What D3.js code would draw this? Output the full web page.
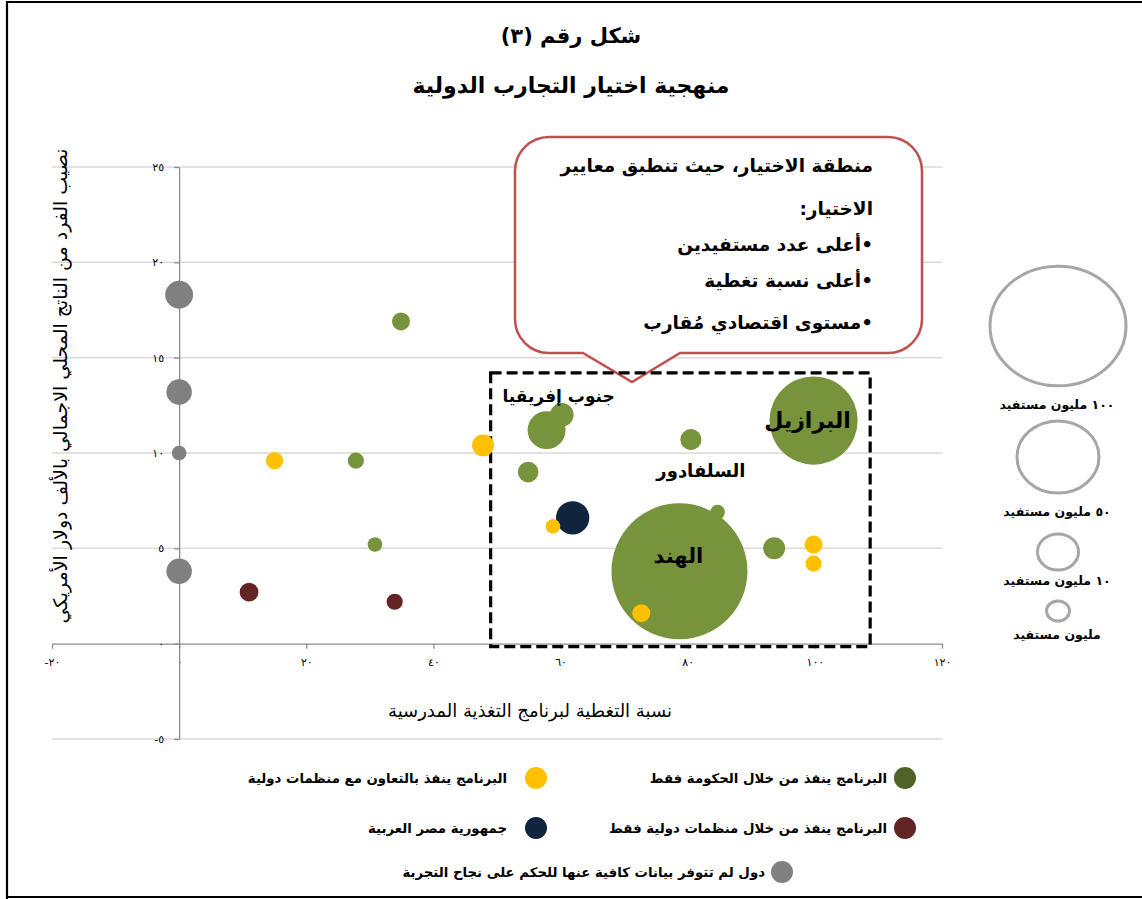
<!DOCTYPE html>
<html><head><meta charset="utf-8">
<script src="https://cdn.jsdelivr.net/npm/d3@7"></script>
<style>
body{margin:0;background:#fff}
svg{display:block}
text{font-family:"DejaVu Sans",sans-serif;fill:#000}
</style>
</head><body>
<svg id="c" width="1142" height="899"></svg>
<script>
// ---------- DATA ----------
const titleLine1 = "شكل رقم (٣)";
const titleLine2 = "منهجية اختيار التجارب الدولية";
const xAxisTitle = "نسبة التغطية لبرنامج التغذية المدرسية";
const yAxisTitle = "نصيب الفرد من الناتج المحلي الاجمالي بالألف دولار الأمريكي";

const xTicks = [-20, 0, 20, 40, 60, 80, 100, 120];
const yTicks = [-5, 0, 5, 10, 15, 20, 25];

// series: government only (green)
const govX    = [34.9, 27.8, 30.8, 57.8, 60.2, 54.9, 80.5, 99.8, 84.7, 78.7, 93.6];
const govY    = [16.9, 9.6, 5.2, 11.2, 12.0, 9.0, 10.7, 11.7, 6.9, 3.8, 5.0];
const govSize = [1.75, 1.4, 1.15, 7.8, 3.0, 2.3, 2.4, 42, 1.15, 100, 2.6];
// international organisations only (maroon)
const intlX    = [11.0, 33.9];
const intlY    = [2.7, 2.2];
const intlSize = [1.9, 1.4];
// cooperation with international organisations (yellow)
const coopX    = [15.0, 47.8, 58.8, 72.7, 99.8, 99.8];
const coopY    = [9.6, 10.4, 6.15, 1.6, 5.2, 4.2];
const coopSize = [1.6, 2.6, 1.15, 1.75, 1.75, 1.4];
// Egypt (navy)
const egyptX    = [61.9];
const egyptY    = [6.6];
const egyptSize = [6.0];
// insufficient data (gray)
const noDataX    = [0, 0, 0, 0];
const noDataY    = [18.3, 13.2, 10.0, 3.8];
const noDataSize = [4.2, 3.5, 1.15, 3.5];

const seriesNames = [
  "البرنامج ينفذ من خلال الحكومة فقط",
  "البرنامج ينفذ بالتعاون مع منظمات دولية",
  "البرنامج ينفذ من خلال منظمات دولية فقط",
  "جمهورية مصر العربية",
  "دول لم تتوفر بيانات كافية عنها للحكم على نجاح التجربة"
];

const countryNames = ["جنوب إفريقيا", "البرازيل", "السلفادور", "الهند"];
const countryGovIndex = [3, 7, 6, 9];

const selectionX = [49, 108.7];
const selectionY = [-0.15, 14.2];

const calloutLines = [
  "منطقة الاختيار، حيث تنطبق معايير",
  "الاختيار:",
  "•أعلى عدد مستفيدين",
  "•أعلى نسبة تغطية",
  "•مستوى اقتصادي مُقارب"
];

const sizeLegendValues = [100, 50, 10, 1];
const sizeLegendLabels = ["١٠٠  مليون مستفيد", "٥٠  مليون مستفيد", "١٠ مليون مستفيد", "مليون مستفيد"];

// ---------- HELPERS ----------
const rtl = s => "\u200F" + s + "\u200F";
const arDigits = n => String(n).replace(/\d/g, d => "٠١٢٣٤٥٦٧٨٩"[+d]);

const svg = d3.select("#c");

// frame
svg.append("path").attr("d", "M7,899 V2 H1142").attr("fill", "none").attr("stroke", "#000").attr("stroke-width", 2.2);
svg.append("line").attr("x1", 7).attr("x2", 1142).attr("y1", 897).attr("y2", 897).attr("stroke", "#000").attr("stroke-width", 2);

// titles
svg.append("text").attr("x", 571).attr("y", 36).attr("text-anchor", "middle").attr("dominant-baseline", "central")
  .style("font-size", "21px").style("font-weight", "bold").text(rtl(titleLine1));
svg.append("text").attr("x", 571).attr("y", 85).attr("text-anchor", "middle").attr("dominant-baseline", "central")
  .style("font-size", "22px").style("font-weight", "bold").text(rtl(titleLine2));

// scales
const x = d3.scaleLinear().domain([-20, 120]).range([52, 942]);
const y = d3.scaleLinear().domain([-5, 25]).range([739, 167]);
const r = d3.scaleSqrt().domain([0, 100]).range([0, 68]);

// gridlines
svg.append("g").selectAll("line").data(yTicks.filter(v => v !== 0)).join("line")
  .attr("x1", x(-20)).attr("x2", x(120)).attr("y1", d => y(d)).attr("y2", d => y(d))
  .attr("stroke", "#d9d9d9").attr("stroke-width", 1.5);

// axes
const xAxis = svg.append("g").attr("transform", `translate(0,${y(0)})`)
  .call(d3.axisBottom(x).tickValues(xTicks).tickSize(5).tickSizeOuter(0).tickPadding(10));
xAxis.selectAll("text").text(d => (d < 0 ? "-" : "") + arDigits(Math.abs(d)))
  .style("font-size", "11px").attr("fill", "#000");
const yAxis = svg.append("g").attr("transform", `translate(${x(0)},0)`)
  .call(d3.axisLeft(y).tickValues(yTicks).tickSize(5).tickSizeOuter(0).tickPadding(10));
yAxis.selectAll("text").text(d => (d < 0 ? "-" : "") + arDigits(Math.abs(d)))
  .style("font-size", "11px").attr("fill", "#000");
svg.selectAll(".domain, .tick line").attr("stroke", "#8c8c8c").attr("stroke-width", 1.3);

// axis titles
svg.append("text").attr("x", 530).attr("y", 710).attr("text-anchor", "middle").attr("dominant-baseline", "central")
  .style("font-size", "18px").text(rtl(xAxisTitle));
svg.append("text").attr("transform", "translate(60,386) rotate(-90)").attr("text-anchor", "middle").attr("dominant-baseline", "central")
  .style("font-size", "19px").text(rtl(yAxisTitle));

// callout (drawn before selection box)
const cb = {l: 515, r: 922, t: 137, b: 353, rad: 34, p1: 583, p2: 680, tip: [632, 382]};
svg.append("path").attr("d",
  `M${cb.l + cb.rad},${cb.t} H${cb.r - cb.rad} A${cb.rad},${cb.rad} 0 0 1 ${cb.r},${cb.t + cb.rad}
   V${cb.b - cb.rad} A${cb.rad},${cb.rad} 0 0 1 ${cb.r - cb.rad},${cb.b} H${cb.p2} L${cb.tip[0]},${cb.tip[1]} L${cb.p1},${cb.b}
   H${cb.l + cb.rad} A${cb.rad},${cb.rad} 0 0 1 ${cb.l},${cb.b - cb.rad} V${cb.t + cb.rad} A${cb.rad},${cb.rad} 0 0 1 ${cb.l + cb.rad},${cb.t} Z`)
  .attr("fill", "#fff").attr("stroke", "#c0504d").attr("stroke-width", 2.5);
const calloutY = [165, 208, 244, 280, 322];
svg.append("g").selectAll("text").data(calloutLines).join("text")
  .attr("x", 873).attr("y", (d, i) => calloutY[i]).attr("text-anchor", "end").attr("dominant-baseline", "central")
  .style("font-size", "18.5px").style("font-weight", "bold").text(d => rtl(d));

// selection box
svg.append("rect")
  .attr("x", x(selectionX[0])).attr("y", y(selectionY[1]))
  .attr("width", x(selectionX[1]) - x(selectionX[0])).attr("height", y(selectionY[0]) - y(selectionY[1]))
  .attr("fill", "none").attr("stroke", "#000").attr("stroke-width", 3.2).attr("stroke-dasharray", "11,5");

// bubbles
const colors = {gov: "#77933c", intl: "#632523", coop: "#ffc000", egypt: "#10243e", nodata: "#808080"};
const legendColors = {gov: "#4f6228", intl: "#632523", coop: "#ffc000", egypt: "#10243e", nodata: "#808080"};
function pts(xs, ys, ss, key) { return xs.map((v, i) => ({x: v, y: ys[i], s: ss[i], key})); }
const layers = [
  pts(govX, govY, govSize, "gov").sort((a, b) => b.s - a.s),
  pts(intlX, intlY, intlSize, "intl"),
  pts(egyptX, egyptY, egyptSize, "egypt"),
  pts(coopX, coopY, coopSize, "coop"),
  pts(noDataX, noDataY, noDataSize, "nodata")
];
layers.forEach(layer => {
  svg.append("g").selectAll("circle").data(layer).join("circle")
    .attr("cx", d => x(d.x)).attr("cy", d => y(d.y)).attr("r", d => r(d.s))
    .attr("fill", d => colors[d.key]);
});

// country labels (offset from their bubble)
const labelOffsets = [[12, -34], [-6, 0], [10, 31], [-1, -15]];
const labelSizes = [17, 22, 18, 21];
svg.append("g").selectAll("text").data(countryNames).join("text")
  .attr("x", (d, i) => x(govX[countryGovIndex[i]]) + labelOffsets[i][0])
  .attr("y", (d, i) => y(govY[countryGovIndex[i]]) + labelOffsets[i][1])
  .attr("text-anchor", "middle").attr("dominant-baseline", "central")
  .style("font-size", (d, i) => labelSizes[i] + "px").style("font-weight", "bold").text(d => rtl(d));

// size legend
const legR = d3.scaleLinear().domain([1, 10, 50, 100]).range([11.5, 20.5, 41, 68]);
const legCy = [326, 457, 552, 611];
const legTy = [404, 511, 580, 634];
const sl = svg.append("g");
sl.selectAll("ellipse").data(sizeLegendValues).join("ellipse")
  .attr("cx", 1058).attr("cy", (d, i) => legCy[i]).attr("rx", d => legR(d)).attr("ry", d => legR(d) * 0.88)
  .attr("fill", "none").attr("stroke", "#a6a6a6").attr("stroke-width", 3);
sl.selectAll("text").data(sizeLegendLabels).join("text")
  .attr("x", 1057).attr("y", (d, i) => legTy[i]).attr("text-anchor", "middle").attr("dominant-baseline", "central")
  .style("font-size", "12.5px").style("font-weight", "bold").text(d => rtl(d));

// category legend
const legendKeys = ["gov", "coop", "intl", "egypt", "nodata"];
const legendPos = [[905, 778], [536, 778], [905, 828], [536, 828], [782, 872]];
const lg = svg.append("g");
lg.selectAll("circle").data(legendKeys).join("circle")
  .attr("cx", (d, i) => legendPos[i][0]).attr("cy", (d, i) => legendPos[i][1]).attr("r", 11)
  .attr("fill", d => legendColors[d]);
lg.selectAll("text").data(seriesNames).join("text")
  .attr("x", (d, i) => legendPos[i][0] - (i === 4 ? 17 : 18) - (i % 2 === 1 && i < 4 ? 11 : 0))
  .attr("y", (d, i) => legendPos[i][1]).attr("text-anchor", "end").attr("dominant-baseline", "central")
  .style("font-size", "13.3px").style("font-weight", "bold").text(d => rtl(d));
</script>
</body></html>
